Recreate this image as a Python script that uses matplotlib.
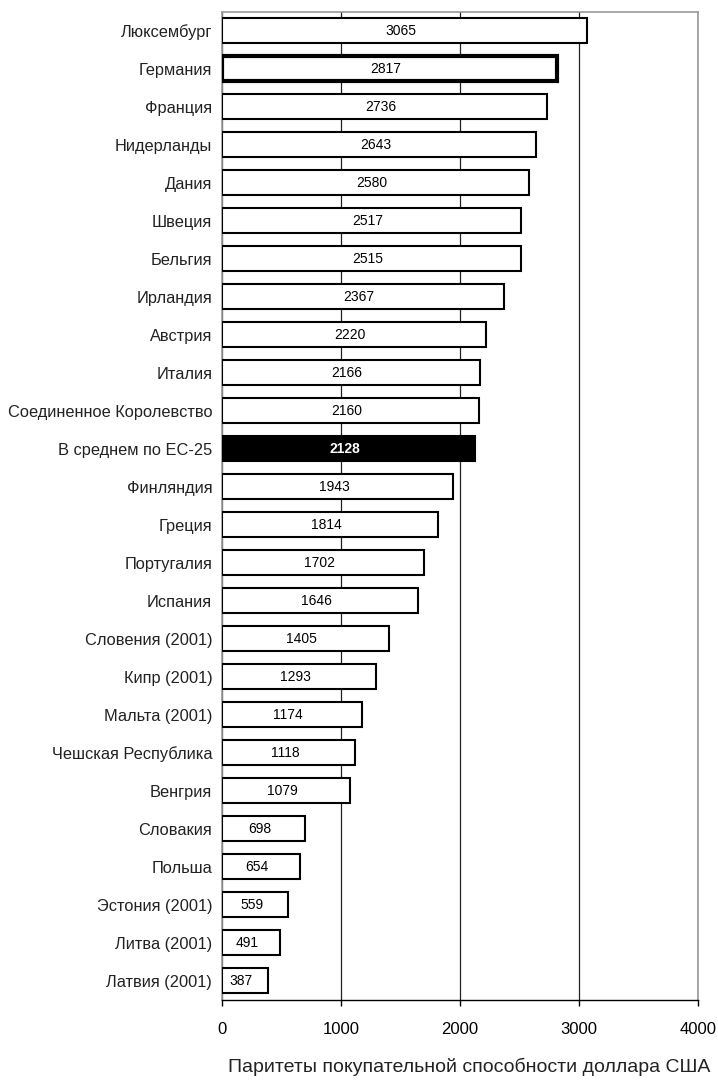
import matplotlib.pyplot as plt
import numpy as np
import matplotlib
from matplotlib import font_manager

matplotlib.rcParams['font.family'] = ['Liberation Sans', 'DejaVu Sans']

countries = ["Люксембург", "Германия", "Франция", "Нидерланды", "Дания",
             "Швеция", "Бельгия", "Ирландия", "Австрия", "Италия",
             "Соединенное Королевство", "В среднем по ЕС-25", "Финляндия",
             "Греция", "Португалия", "Испания", "Словения (2001)",
             "Кипр (2001)", "Мальта (2001)", "Чешская Республика", "Венгрия",
             "Словакия", "Польша", "Эстония (2001)", "Литва (2001)",
             "Латвия (2001)"]
values = [3065, 2817, 2736, 2643, 2580, 2517, 2515, 2367, 2220, 2166,
          2160, 2128, 1943, 1814, 1702, 1646, 1405, 1293, 1174, 1118,
          1079, 698, 654, 559, 491, 387]
xticks = [0, 1000, 2000, 3000, 4000]
avg_label = "В среднем по ЕС-25"
bold_edge = "Германия"

# narrow face for the numbers inside the bars, if it is installed
installed = {f.name for f in font_manager.fontManager.ttflist}
if "Liberation Sans Narrow" in installed:
    num_family, num_size = ["Liberation Sans Narrow", "DejaVu Sans"], 12
else:
    num_family, num_size = ["Liberation Sans", "DejaVu Sans"], 10


def main():
    fig = plt.figure(figsize=(7.18, 10.81), dpi=100)
    ax = fig.add_axes([0.309, 0.075, 0.663, 0.914])

    y = np.arange(len(countries))
    for yi, name, v in zip(y, countries, values):
        if name == avg_label:
            fc, lw, tc, fw = "black", 1.5, "white", "bold"
        elif name == bold_edge:
            fc, lw, tc, fw = "white", 3.0, "black", "normal"
        else:
            fc, lw, tc, fw = "white", 1.5, "black", "normal"
        ax.barh(yi, v, height=0.66, color=fc, edgecolor="black",
                linewidth=lw, zorder=3)
        ax.text(v / 2 - 30, yi, str(v), ha="center", va="center", color=tc,
                fontsize=num_size, family=num_family, fontweight=fw, zorder=4)

    ax.set_ylim(len(countries) - 0.5, -0.5)
    ax.set_xlim(0, 4000)
    ax.set_yticks(y)
    ax.set_yticklabels(countries, fontsize=11.8, color="#222222")
    ax.tick_params(axis="y", length=0, pad=7)
    ax.set_xticks(xticks)
    ax.set_xticklabels([str(t) for t in xticks], fontsize=12)
    ax.tick_params(axis="x", direction="out", length=4, width=1, pad=12)
    ax.xaxis.grid(True, color="#222222", linewidth=0.9, zorder=0)
    ax.set_axisbelow(True)

    for side in ["left", "top", "right"]:
        ax.spines[side].set_color("#999999")
        ax.spines[side].set_linewidth(1.2)
    ax.spines["bottom"].set_color("black")
    ax.spines["bottom"].set_linewidth(1.0)

    ax.set_xlabel("Паритеты покупательной способности доллара США",
                  fontsize=14, labelpad=15, color="#222222")
    ax.xaxis.label.set_x(0.519)
    fig.savefig("out.png", dpi=100)


if __name__ == "__main__":
    main()
